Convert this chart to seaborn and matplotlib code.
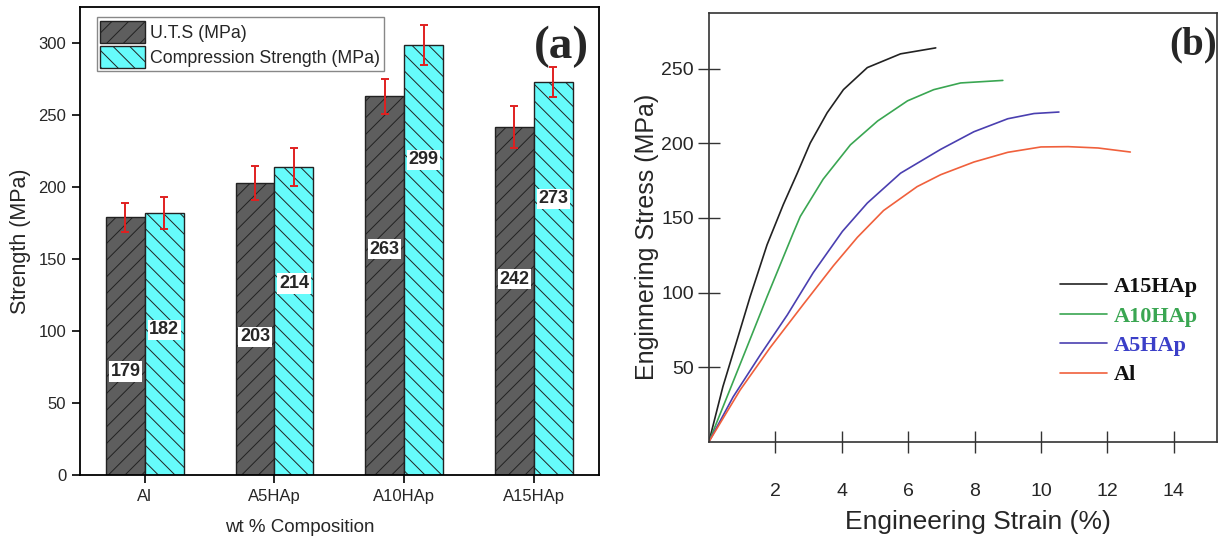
import numpy as np
import pandas as pd
import matplotlib
matplotlib.use("Agg")
import matplotlib.pyplot as plt
import seaborn as sns

# (a) strength bars
samples = ["Al", "A5HAp", "A10HAp", "A15HAp"]
uts = [179, 203, 263, 242]
uts_err = [10, 12, 12, 14.5]
comp = [182, 214, 299, 273]
comp_err = [11, 13.5, 14, 10.5]
series_names = ["U.T.S (MPa)", "Compression Strength (MPa)"]

# where the value boxes sit inside the bars
uts_label_y = [72, 96, 157, 136]
comp_label_y = [101, 133, 219, 192]

# (b) stress-strain curves
strain_a15 = [0, 0.42, 0.85, 1.24, 1.75, 2.24, 2.66, 3.05, 3.56, 4.05, 4.77, 5.77, 6.83]
stress_a15 = [0, 36.9, 68.4, 97.2, 132, 159, 180, 200.2, 220.5, 236, 250.8, 260, 264]
strain_a10 = [0, 0.63, 1.15, 1.75, 2.54, 2.75, 3.44, 4.26, 5.08, 5.98, 6.77, 7.58, 8.85]
stress_a10 = [0, 34.8, 63.7, 97.2, 140, 151, 176, 199, 215, 228.5, 236, 240.5, 242.2]
strain_a5 = [0, 0.73, 1.54, 2.36, 3.14, 4.02, 4.77, 5.77, 6.98, 7.98, 9.0, 9.79, 10.54]
stress_a5 = [0, 30.1, 58, 85, 113.3, 141, 160, 180, 196, 207.8, 216.5, 220, 221]
strain_al = [0, 0.94, 1.84, 2.84, 3.75, 4.47, 5.26, 6.27, 6.98, 7.98, 9.0, 10.0, 10.82, 11.72, 12.69]
stress_al = [0, 34.7, 63, 92, 118, 137, 155, 171, 179, 187.5, 194, 197.6, 197.8, 196.9, 194.2]
curve_names = ["A15HAp", "A10HAp", "A5HAp", "Al"]

sns.set_theme(style="ticks")
plt.rcParams["font.family"] = ["Liberation Sans", "DejaVu Sans"]
plt.rcParams["hatch.linewidth"] = 0.7

fig = plt.figure(figsize=(12.2, 5.42), dpi=100)
ax1 = fig.add_axes([0.0656, 0.1236, 0.425, 0.863])
ax2 = fig.add_axes([0.5811, 0.185, 0.4164, 0.7916])

# ---------------- panel (a) ----------------
df_a = pd.DataFrame({
    "Sample": samples * 2,
    "Strength": uts + comp,
    "Type": [series_names[0]] * 4 + [series_names[1]] * 4,
})
sns.barplot(data=df_a, x="Sample", y="Strength", hue="Type",
            palette=["#5e5e5e", "#66fbfb"], width=0.6, errorbar=None,
            saturation=1, edgecolor="#222222", linewidth=1, ax=ax1)

for cont, hatch, vals, errs, lab_y in zip(ax1.containers, ["//", "\\\\"],
                                          [uts, comp], [uts_err, comp_err],
                                          [uts_label_y, comp_label_y]):
    xs = []
    for bar in cont:
        bar.set_hatch(hatch)
        xs.append(bar.get_x() + bar.get_width() / 2)
    ax1.errorbar(xs, vals, yerr=errs, fmt="none", ecolor="#e02020",
                 elinewidth=1.4, capsize=3, capthick=1.4, zorder=5)
    for x, v, ly in zip(xs, vals, lab_y):
        ax1.text(x, ly, str(v), ha="center", va="center", fontsize=13,
                 fontweight="bold", zorder=6,
                 bbox=dict(facecolor="white", edgecolor="none", pad=1.2))

ax1.legend(ax1.containers, series_names, loc="upper left",
           bbox_to_anchor=(0.032, 0.979), fontsize=12.8, handlelength=2.5,
           handleheight=1.55, labelspacing=0.15, borderpad=0.2,
           handletextpad=0.3, borderaxespad=0, fancybox=False,
           edgecolor="#888888", framealpha=1)

ax1.set_xlim(-0.5, 3.5)
ax1.set_ylim(0, 325)
ax1.set_yticks(np.arange(0, 301, 50))
ax1.tick_params(axis="both", direction="out", length=6, width=1.2,
                labelsize=12, pad=4, color="black")
for sp in ax1.spines.values():
    sp.set_color("black")
    sp.set_linewidth(1.3)
ax1.set_xlabel("wt % Composition", fontsize=13.5)
ax1.set_ylabel("Strength (MPa)", fontsize=15.5)
ax1.xaxis.set_label_coords(0.424, -0.093)
ax1.yaxis.set_label_coords(-0.094, 0.5)
ax1.text(0.928, 0.916, "(a)", transform=ax1.transAxes, ha="center",
         va="center", fontsize=34, fontweight="bold",
         family=["Liberation Serif", "DejaVu Serif"])

# ---------------- panel (b) ----------------
df_b = pd.concat([
    pd.DataFrame({"Strain": strain_a15, "Stress": stress_a15, "Sample": "A15HAp"}),
    pd.DataFrame({"Strain": strain_a10, "Stress": stress_a10, "Sample": "A10HAp"}),
    pd.DataFrame({"Strain": strain_a5, "Stress": stress_a5, "Sample": "A5HAp"}),
    pd.DataFrame({"Strain": strain_al, "Stress": stress_al, "Sample": "Al"}),
])
line_colors = ["#222222", "#3aa652", "#4a3fb0", "#f0603c"]
sns.lineplot(data=df_b, x="Strain", y="Stress", hue="Sample",
             hue_order=curve_names, palette=line_colors, sort=False,
             estimator=None, legend=False, linewidth=1.2, ax=ax2)

ax2.legend(ax2.lines[:4], curve_names, loc="upper left",
           bbox_to_anchor=(0.692, 0.385), frameon=False,
           labelcolor=["#111111", "#3aa652", "#3b3fc8", "#111111"],
           prop={"family": ["Liberation Serif", "DejaVu Serif"],
                 "weight": "bold", "size": 16},
           handlelength=2.1, handletextpad=0.3, labelspacing=0.4,
           borderaxespad=0, borderpad=0)

ax2.set_xlim(0, 15.3)
ax2.set_ylim(0, 287.6)
ax2.set_xticks([2, 4, 6, 8, 10, 12, 14])
ax2.set_yticks([50, 100, 150, 200, 250])
ax2.tick_params(axis="x", direction="inout", length=16, width=1, pad=22,
                labelsize=14, color="#333333")
ax2.tick_params(axis="y", direction="inout", length=16, width=1, pad=3,
                labelsize=14, color="#333333")
for sp in ax2.spines.values():
    sp.set_color("#333333")
    sp.set_linewidth(1.2)
ax2.set_xlabel("Engineering Strain (%)", fontsize=19)
ax2.set_ylabel("Enginnering Stress (MPa)", fontsize=18)
ax2.xaxis.set_label_coords(0.53, -0.16)
ax2.yaxis.set_label_coords(-0.098, 0.477)
ax2.text(0.953, 0.925, "(b)", transform=ax2.transAxes, ha="center",
         va="center", fontsize=28, fontweight="bold",
         family=["Liberation Serif", "DejaVu Serif"])

fig.savefig("out.png", dpi=100)
